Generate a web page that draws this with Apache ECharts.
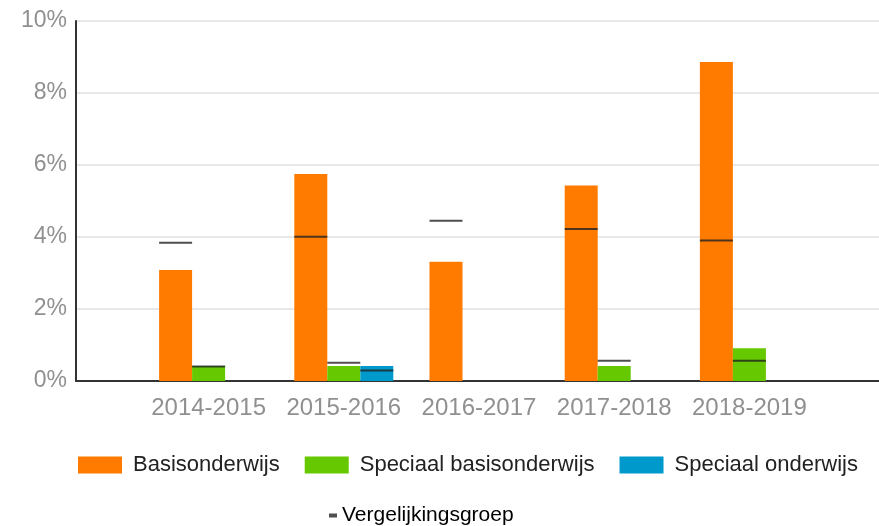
<!DOCTYPE html>
<html>
<head>
<meta charset="utf-8">
<title>Vergelijking</title>
<script src="https://cdn.jsdelivr.net/npm/echarts@6/dist/echarts.min.js"></script>
<style>
  html, body { margin: 0; padding: 0; background: #fff; }
  #chart { width: 879px; height: 526px; }
</style>
</head>
<body>
<div id="chart"></div>
<script>
// schooljaren
var categories = ["2014-2015", "2015-2016", "2016-2017", "2017-2018", "2018-2019"];

// percentages per sector
var basisonderwijs = [3.08, 5.75, 3.31, 5.43, 8.86];
var speciaalBasisonderwijs = [0.42, 0.42, null, 0.42, 0.91];
var speciaalOnderwijs = [null, 0.42, null, null, null];

// vergelijkingsgroep per sector
var vglBasis = [3.84, 4.01, 4.45, 4.22, 3.90];
var vglSpeciaalBasis = [0.40, 0.51, null, 0.56, 0.56];
var vglSpeciaal = [null, 0.29, null, null, null];

var yTicks = [0, 2, 4, 6, 8, 10];

var font = "'Liberation Sans', Arial, sans-serif";
var barW = 33;

function marker(data, offset) {
  return {
    name: "Vergelijkingsgroep",
    type: "scatter",
    xAxisIndex: 1,
    yAxisIndex: 1,
    symbol: "rect",
    symbolSize: [barW, 2],
    symbolOffset: [offset, 0],
    itemStyle: { color: "#222" },
    z: 5,
    data: data
  };
}

var chart = echarts.init(document.getElementById("chart"));
chart.setOption({
  animation: false,
  textStyle: { fontFamily: font },
  grid: [
    // volle breedte: gridlijnen en assen
    { left: 76, right: 0, top: 21, bottom: 145 },
    // staven
    { left: 141, right: 62, top: 21, bottom: 145 }
  ],
  xAxis: [
    {
      type: "value",
      gridIndex: 0,
      min: 0,
      max: 1,
      axisLine: { show: true, onZero: false, lineStyle: { color: "#333", width: 2 } },
      axisTick: { show: false },
      axisLabel: { show: false },
      splitLine: { show: false }
    },
    {
      type: "category",
      gridIndex: 1,
      data: categories,
      axisLine: { show: false },
      axisTick: { show: false },
      axisLabel: { interval: 0, fontSize: 24, color: "#909090", margin: 15, fontFamily: font }
    }
  ],
  yAxis: [
    {
      type: "value",
      gridIndex: 0,
      min: yTicks[0],
      max: yTicks[yTicks.length - 1],
      interval: 2,
      axisLine: { show: true, onZero: false, lineStyle: { color: "#333", width: 2 } },
      axisTick: { show: false },
      axisLabel: { fontSize: 23, color: "#909090", margin: 9, formatter: "{value}%", fontFamily: font },
      splitLine: { lineStyle: { color: "#e8e8e8", width: 2 } }
    },
    {
      type: "value",
      gridIndex: 1,
      min: 0,
      max: 10,
      show: false
    }
  ],
  legend: [
    {
      left: 73,
      top: 449,
      itemWidth: 44,
      itemHeight: 17,
      itemGap: 25,
      textStyle: { fontSize: 22, color: "#222", fontFamily: font, padding: [0, 0, 0, 6] },
      data: [
        { name: "Basisonderwijs", icon: "rect" },
        { name: "Speciaal basisonderwijs", icon: "rect" },
        { name: "Speciaal onderwijs", icon: "rect" }
      ]
    },
    {
      left: 324,
      top: 500,
      itemWidth: 8,
      itemHeight: 4,
      textStyle: { fontSize: 21, color: "#000", fontFamily: font },
      data: [{ name: "Vergelijkingsgroep", icon: "rect" }]
    }
  ],
  series: [
    {
      name: "Basisonderwijs",
      type: "bar",
      xAxisIndex: 1,
      yAxisIndex: 1,
      barWidth: barW,
      barGap: "0%",
      itemStyle: { color: "#ff7b00" },
      data: basisonderwijs
    },
    {
      name: "Speciaal basisonderwijs",
      type: "bar",
      xAxisIndex: 1,
      yAxisIndex: 1,
      barWidth: barW,
      barGap: "0%",
      itemStyle: { color: "#66c800" },
      data: speciaalBasisonderwijs
    },
    {
      name: "Speciaal onderwijs",
      type: "bar",
      xAxisIndex: 1,
      yAxisIndex: 1,
      barWidth: barW,
      barGap: "0%",
      itemStyle: { color: "#0099cc" },
      data: speciaalOnderwijs
    },
    marker(vglBasis, -barW),
    marker(vglSpeciaalBasis, 0),
    marker(vglSpeciaal, barW)
  ]
});
</script>
</body>
</html>
